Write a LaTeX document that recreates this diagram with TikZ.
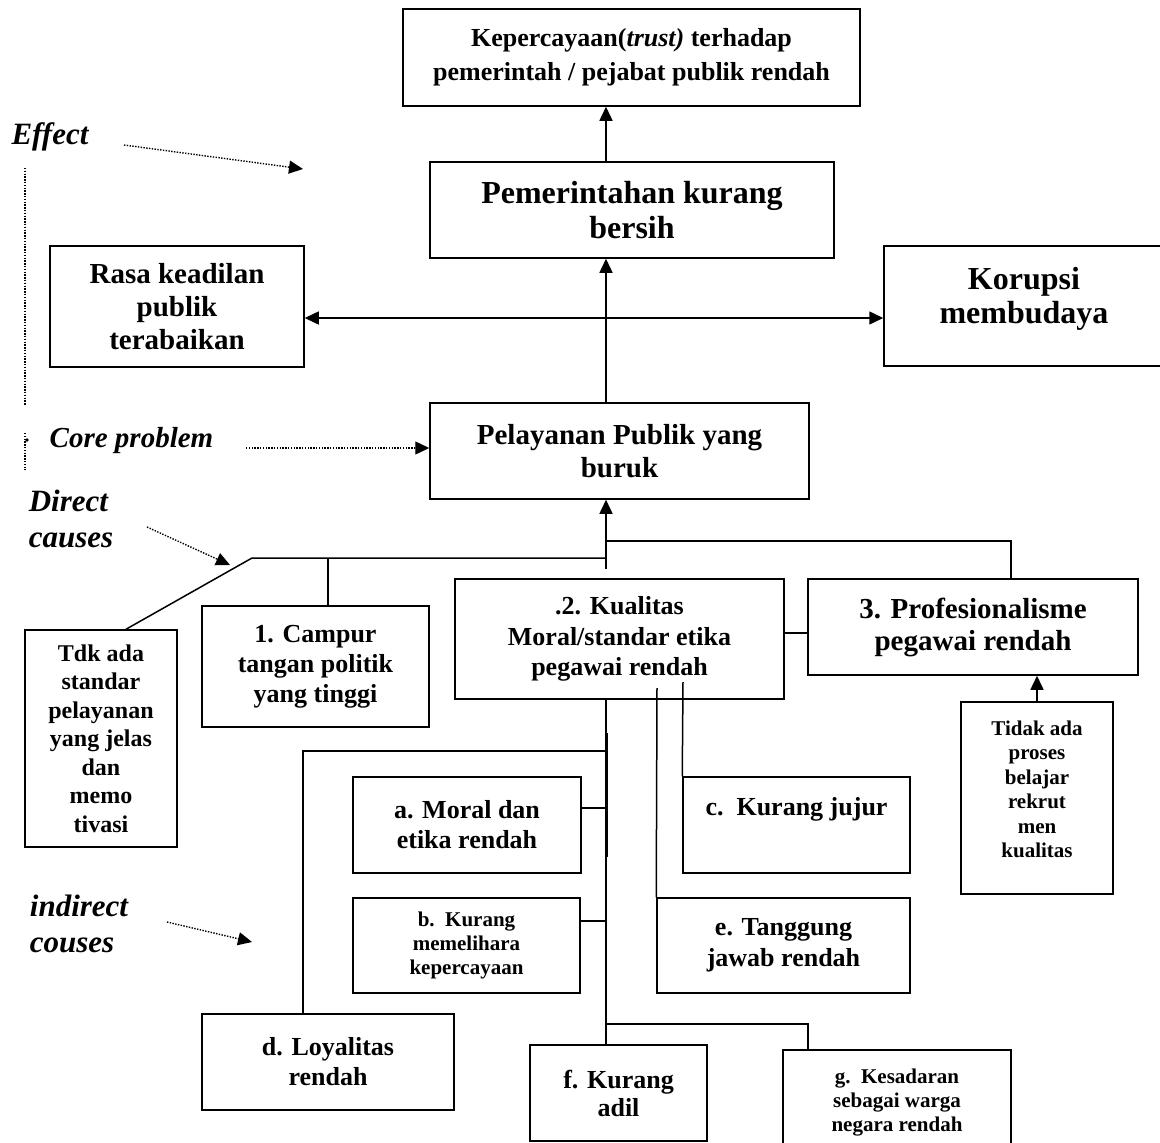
\documentclass[tikz,border=0pt]{standalone}
\usepackage{fontspec}
\setmainfont{Liberation Serif}
\usetikzlibrary{arrows.meta, positioning}
\tikzset{%
	cbox/.style={
		draw,
		line width=1.5pt,
		align=center,
		inner sep=2pt
	},
	sizeA/.style={font=\bfseries\fontsize{32}{35}\selectfont},
	sizeB/.style={font=\bfseries\fontsize{29}{33}\selectfont},
	sizeC/.style={font=\bfseries\fontsize{26}{30}\selectfont},
	sizeD/.style={font=\bfseries\fontsize{24}{28.5}\selectfont},
	sizeE/.style={font=\bfseries\fontsize{21}{24.3}\selectfont},
	side label/.style={font=\bfseries\itshape\fontsize{31}{36}\selectfont},
	arr/.style={-{Triangle[length=14pt,width=13pt]}},
	arr2/.style={{Triangle[length=14pt,width=13pt]}-{Triangle[length=14pt,width=13pt]}},
	dots/.style={line width=1.4pt, dash pattern=on 1.4pt off 1.4pt},
}
\begin{document}
\begin{tikzpicture}[x=1pt,y=-1pt,line width=1.5pt]
	\useasboundingbox (0,0) rectangle (1160,1143);
	
	\node[cbox,font=\bfseries\fontsize{26}{34}\selectfont,minimum width=457pt,minimum height=97pt](trust) at (631.5,57.5){Kepercayaan(\textit{trust)} terhadap\\pemerintah / pejabat publik rendah};
	\node[cbox,sizeA,minimum width=404pt,minimum height=96pt](bersih) at (632,210){Pemerintahan kurang\\bersih};
	\node[cbox,sizeB,minimum width=254pt,minimum height=121pt](rasa) at (177,306.5){Rasa keadilan\\publik\\terabaikan};
	\node[cbox,font=\bfseries\fontsize{32}{34}\selectfont,minimum width=280pt,inner ysep=0pt,text height=77pt,text depth=43pt](korupsi) at (1024,306){Korupsi\\membudaya};
	\node[cbox,sizeB,minimum width=379pt,minimum height=96pt](pelayanan) at (619.5,451){Pelayanan Publik yang\\buruk};
	
	% direct causes
	\node[cbox,sizeD,minimum width=152pt,minimum height=217pt](tdk) at (101,738.5){Tdk ada\\standar\\pelayanan\\yang jelas\\dan\\memo\\tivasi};
	\node[cbox,sizeC,minimum width=227pt,minimum height=121pt](campur) at (315.5,666.5){1. Campur\\tangan politik\\yang tinggi};
	\node[cbox,font=\bfseries\fontsize{26}{30.5}\selectfont,minimum width=329pt,minimum height=120pt](kualitas) at (619.5,639){.2. Kualitas\\Moral/standar etika\\pegawai rendah};
	\node[cbox,font=\bfseries\fontsize{29}{32}\selectfont,minimum width=330pt,minimum height=96pt](profesi) at (973,627){3. Profesionalisme\\pegawai rendah};
	\node[cbox,font=\bfseries\fontsize{21}{24.5}\selectfont,minimum width=152pt,inner ysep=0pt,text height=155.5pt,text depth=36.5pt](tidak) at (1037,798){Tidak ada\\proses\\belajar\\rekrut\\men\\kualitas};
	
	% indirect causes
	\node[cbox,sizeC,minimum width=228pt,minimum height=96pt](moral) at (467,825){a. Moral dan\\etika rendah};
	\node[cbox,sizeE,minimum width=227pt,minimum height=95pt](memelihara) at (466.5,945.5){b.\ \ Kurang\\memelihara\\kepercayaan};
	\node[cbox,sizeC,minimum width=227pt,inner ysep=0pt,text height=38pt,text depth=58pt](jujur) at (796.5,825){c.\ \ Kurang jujur};
	\node[cbox,font=\bfseries\fontsize{26}{31}\selectfont,minimum width=253pt,minimum height=95pt](tanggung) at (783.5,945.5){e. Tanggung\\jawab rendah};
	\node[cbox,sizeC,minimum width=252pt,minimum height=96pt](loyal) at (328,1062){d. Loyalitas\\rendah};
	\node[cbox,font=\bfseries\fontsize{26}{28}\selectfont,minimum width=177pt,minimum height=96pt](adil) at (618.5,1093){f. Kurang\\adil};
	\node[cbox,font=\bfseries\fontsize{21}{24}\selectfont,minimum width=228pt,inner ysep=0pt,text height=82pt,text depth=62pt,anchor=north](sadar) at (897,1049){g.\ \ Kesadaran\\sebagai warga\\negara rendah};
	
	\node[side label](effect) at (50,137){Effect};
	\node[side label,font=\bfseries\itshape\fontsize{29}{34}\selectfont](core) at (131.5,441){Core problem};
	\node[side label,align=left](direct) at (71,519){Direct\\causes};
	\node[side label,align=left](indirect) at (79,924){indirect\\couses};
	
	\coordinate (ax) at (606,0);
	\draw[arr] (bersih.north -| ax) -- (trust.south -| ax);
	\draw[arr] (pelayanan.north -| ax) -- (bersih.south -| ax);
	\coordinate (hy) at (0,318);
	\draw[arr2] (rasa.east |- hy) -- (korupsi.west |- hy);
	
	\coordinate (dc) at (606,569);
	\draw[arr] (dc) -- (pelayanan.south -| ax);
	\coordinate (dl) at (606,558);
	\coordinate (bend) at (252,558);
	\coordinate (tx) at (126,0);
	\draw (dl) -- (bend) -- (tdk.north -| tx);
	\coordinate (cx) at (328,558);
	\draw (cx) -- (campur.north -| cx);
	\coordinate (pl) at (606,541);
	\coordinate (pr) at (1011,541);
	\draw (pl) -- (pr) -- (profesi.north -| pr);
	\coordinate (ky) at (0,633);
	\draw (kualitas.east |- ky) -- (profesi.west |- ky);
	\draw[arr] (tidak.north) -- (profesi.south -| tidak.north);
	
	\draw (kualitas.south -| ax) -- (adil.north -| ax);
	\coordinate (tk1) at (606,733);
	\coordinate (tk2) at (606,857);
	\draw[line width=3pt] (tk1) -- (tk2);
	\coordinate (dl2) at (606,751);
	\coordinate (dx) at (303,751);
	\draw (dl2) -- (dx) -- (loyal.north -| dx);
	\coordinate (ay) at (0,808);
	\draw (moral.east |- ay) -- (ax |- ay);
	\coordinate (by) at (0,921);
	\draw (memelihara.east |- by) -- (ax |- by);
	\coordinate (ex) at (657,688);
	\draw (ex) -- (tanggung.north west);
	\coordinate (cxx) at (683,682);
	\draw (cxx) -- (jujur.north west);
	\coordinate (fl) at (606,1024);
	\coordinate (fr) at (808,1024);
	\draw (fl) -- (fr) -- (sadar.north -| fr);
	
	% dotted pointers
	\coordinate (e1) at (124,145);
	\coordinate (e2) at (303,169);
	\draw[dots,arr] (e1) -- (e2);
	\coordinate (c1) at (246,448);
	\draw[dots,arr] (c1) -- (pelayanan.west |- c1);
	\coordinate (d1) at (147,527);
	\coordinate (d2) at (230,565);
	\draw[dots,arr] (d1) -- (d2);
	\coordinate (i1) at (167,922);
	\coordinate (i2) at (252,942);
	\draw[dots,arr] (i1) -- (i2);
	\coordinate (v1) at (25,168);
	\coordinate (v2) at (25,405);
	\coordinate (v3) at (25,433);
	\coordinate (v4) at (25,470);
	\draw[dots] (v1) -- (v2);
	\draw[dots] (v3) -- (v4);
	\coordinate (v5) at (27,440);
	\fill (v5) circle (1.8pt);
\end{tikzpicture}
\end{document}
